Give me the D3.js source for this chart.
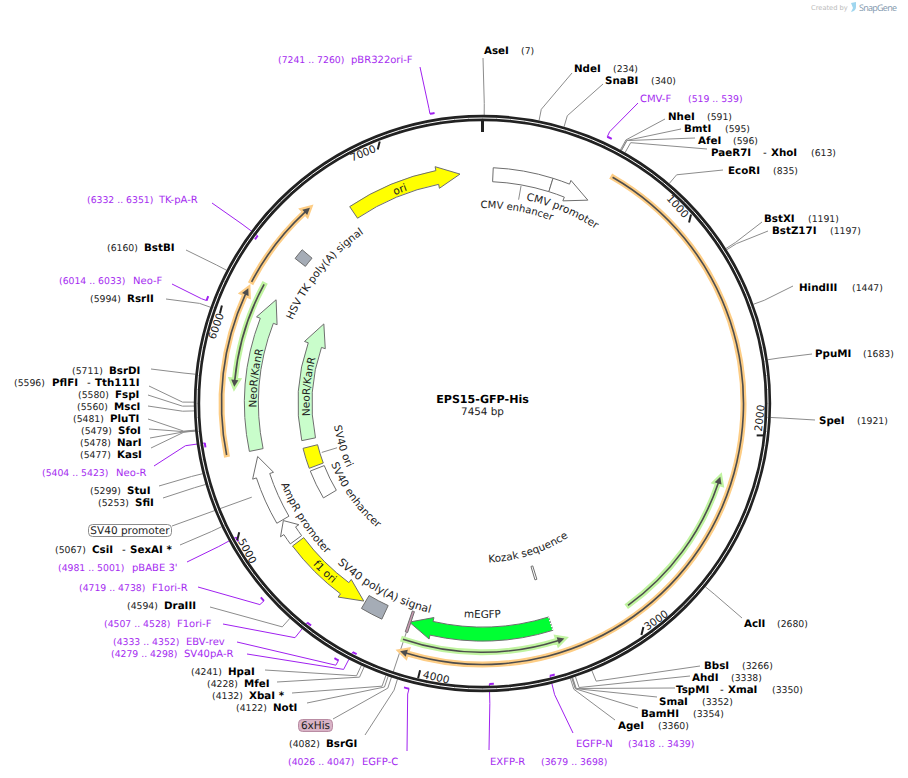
<!DOCTYPE html>
<html>
<head>
<meta charset="utf-8">
<title>EPS15-GFP-His</title>
<script src="https://cdn.jsdelivr.net/npm/d3@7"></script>
<style>
  body { margin: 0; background: #fff; }
  svg { display: block; font-family: "DejaVu Sans", sans-serif; text-rendering: geometricPrecision; }
  .site { font-size: 10.3px; font-weight: bold; fill: #000; }
  .num { font-size: 9.3px; fill: #222; }
  .primer { font-size: 10px; fill: #a52cf0; }
  .primerNum { font-size: 9.3px; fill: #a52cf0; }
  .feat { font-size: 10.5px; fill: #222; }
  .lead { fill: none; stroke: #8c8c8c; stroke-width: 1; }
</style>
</head>
<body>
<div id="map"></div>
<script>
var plasmidLength = 7454;

// restriction sites
var siteNames = ["AseI","NdeI","SnaBI","NheI","BmtI","AfeI","PaeR7I","EcoRI","BstXI","BstZ17I","HindIII","PpuMI","SpeI","AclI",
  "BbsI","AhdI","TspMI","SmaI","BamHI","AgeI","BsrGI","NotI","XbaI *","MfeI","HpaI","DraIII","CsiI","SfiI","StuI",
  "KasI","NarI","SfoI","PluTI","MscI","FspI","PflFI","BsrDI","RsrII","BstBI"];
var sitePositions = [7,234,340,591,595,596,613,835,1191,1197,1447,1683,1921,2680,
  3266,3338,3350,3352,3354,3360,4082,4122,4132,4228,4241,4594,5067,5253,5299,
  5477,5478,5479,5481,5560,5580,5596,5711,5994,6160];
var siteSecondNames = {"PaeR7I":"XhoI","TspMI":"XmaI","CsiI":"SexAI *","PflFI":"Tth111I"};

// primers
var primerNames = ["pBR322ori-F","TK-pA-R","Neo-F","Neo-R","pBABE 3'","F1ori-R","F1ori-F","EBV-rev","SV40pA-R","EGFP-C","EXFP-R","EGFP-N","CMV-F"];
var primerStarts = [7241,6332,6014,5404,4981,4719,4507,4333,4279,4026,3679,3418,519];
var primerEnds = [7260,6351,6033,5423,5001,4738,4528,4352,4298,4047,3698,3439,539];
var primerOutside = [true,false,true,false,false,true,false,true,false,true,false,false,true];

// features, from = tail, to = arrow tip
var featNames = ["ori","CMV enhancer","CMV promoter","NeoR/KanR","NeoR/KanR","f1 ori","mEGFP","SV40 promoter","AmpR promoter"];
var featFrom = [6750,54,360,5350,5350,4827,3370,4965,4842];
var featTo = [7338,360,567,6143,6142,4369,4110,5316,4960];

var boxNames = ["HSV TK poly(A) signal","SV40 ori","SV40 enhancer","SV40 poly(A) signal","6xHis","Kozak sequence"];
var boxFrom = [6372,5166,4955,4245,4102,3371];
var boxTo = [6428,5300,5147,4360,4114,3384];

// thin ORF arrows, orange and green
var orangeFrom = [619,5355,6166];
var orangeTo = [4108,6133,6597];
var greenFrom = [6183,4113,2986];
var greenTo = [5670,3329,2218];

var rulerTicks = [1000,2000,3000,4000,5000,6000,7000];

// label layout, x, baseline, number x, leader end x, leader end y (same order as the names)
var siteLayout = [
  [484,54,521,483,58],[574,72,613,572,73],[605,84,651,603,84],[668,120,707,665,119],[684,132,725,681,129],[698,144,733,695,138],
  [711,156,811,707,149],[728,174,773,723,170],[764,222,808,762,222],[772,234,830,768,231],[799,291,852,793,286],[815,357,863,812,354],
  [819,424,857,815,420],[744,627,777,742,618],
  [704,669,742,700,666],[692,681,731,690,676],[676,693,772,675,688],[659,705,702,657,697],[641,717,693,638,708],[618,729,658,615,720],
  [326,747,289,365,735],[273,711,236,307,703],[249,699,212,292,693],[244,687,207,277,682],[228,675,191,265,670],[164,609,127,210,607],
  [92,553,55,180,545],[135,506,98,163,498],[127,494,90,159,486],
  [117,458,80,151,448],[117,446,80,150,438],[118,434,81,149,429],[110,422,73,148,419],[114,410,77,148,406],[115,398,78,148,395],
  [52,386,14,149,386],[109,374,72,151,369],[127,302,90,166,299],[144,251,107,186,250]
];
var secondNameX = {"XhoI":771,"XmaI":728,"SexAI *":130,"Tth111I":95};

// name x, range x, baseline, leader end x, leader end y
var primerLayout = [
  [351,278,63,420,67],[159,87,203,212,203],[133,59,284,172,284],[116,42,476,154,466],[132,58,571,187,562],[152,79,591,198,587],
  [177,104,627,223,624],[186,113,645,237,642],[184,111,657,247,654],[362,288,765,407,751],[490,541,765,489,750],[576,628,747,573,733],[640,688,102,638,103]
];

var width = 908, height = 778;
var cx = 482.5, cy = 403.5;
var ringR = 285.5;

var angle = d3.scaleLinear().domain([0, plasmidLength]).range([0, 2 * Math.PI]);

function polar(bp, r) {
  var a = angle(bp);
  return [cx + r * Math.sin(a), cy - r * Math.cos(a)];
}

var svg = d3.select("#map").append("svg")
  .attr("width", width)
  .attr("height", height);

var chart = svg.append("g");
var plot = svg.append("g").attr("transform", `translate(${cx}, ${cy})`);

// arrow or box along the circle, drawn around 0,0
function arcShape(from, to, r, hw, headHw, headLen) {
  var a0 = angle(from) - Math.PI / 2;
  var a1 = angle(to) - Math.PI / 2;
  var dir = a1 > a0 ? 1 : -1;
  var base = a1 - dir * headLen / r;
  var p = d3.path();
  p.arc(0, 0, r + hw, a0, base, dir < 0);
  if (headLen > 0) {
    p.lineTo((r + headHw) * Math.cos(base), (r + headHw) * Math.sin(base));
    p.lineTo(r * Math.cos(a1), r * Math.sin(a1));
    p.lineTo((r - headHw) * Math.cos(base), (r - headHw) * Math.sin(base));
  }
  p.arc(0, 0, r - hw, base, a0, dir > 0);
  p.closePath();
  return p.toString();
}

// the text sits on an arc, clockwise on top and counter clockwise on the bottom half
var pathCount = 0;
function curvedLabel(txt, mid, r, flip, size) {
  var span = 0.9;
  var a = angle(mid);
  var a0 = flip ? a + span : a - span;
  var a1 = flip ? a - span : a + span;
  var id = "tp" + (pathCount++);
  var p = d3.path();
  p.arc(0, 0, r, a0 - Math.PI / 2, a1 - Math.PI / 2, flip);
  plot.append("path").attr("id", id).attr("d", p.toString()).attr("fill", "none");
  plot.append("text").attr("class", "feat")
    .style("font-size", size ? size + "px" : null)
    .append("textPath")
    .attr("href", "#" + id)
    .attr("startOffset", "50%")
    .attr("text-anchor", "middle")
    .text(txt);
}

function radialLine(bp, r0, r1) {
  var p0 = polar(bp, r0), p1 = polar(bp, r1);
  chart.append("line").attr("class", "lead")
    .attr("x1", p0[0]).attr("y1", p0[1]).attr("x2", p1[0]).attr("y2", p1[1]);
}

// thin orange and green arrows
function thinArrows(from, to, r, halo) {
  from.forEach(function(f, i) {
    var d = arcShape(f, to[i], r, 0.8, 3.6, 7);
    plot.append("path").attr("d", d)
      .attr("fill", halo).attr("stroke", halo).attr("stroke-width", 4.4);
    plot.append("path").attr("d", d).attr("fill", "#4d4d4d");
  });
}
thinArrows(orangeFrom, orangeTo, 261, "#fdcd85");
thinArrows(greenFrom, greenTo, 248.8, "#c0f4a0");

// ring
plot.append("circle").attr("r", ringR).attr("fill", "none").attr("stroke", "#222").attr("stroke-width", 6.4);
plot.append("circle").attr("r", ringR).attr("fill", "none").attr("stroke", "#fff").attr("stroke-width", 1);

// origin tick, then the ruler, these ticks do not turn with the circle except at the side
var t0 = polar(0, 283), t1 = polar(0, 271.5);
chart.append("line").attr("x1", t0[0]).attr("y1", t0[1]).attr("x2", t1[0]).attr("y2", t1[1])
  .attr("stroke", "#222").attr("stroke-width", 3);

rulerTicks.forEach(function(t) {
  var m = polar(t, 278);
  var side = Math.abs(Math.cos(angle(t))) < 0.2;
  svg.append("line")
    .attr("x1", side ? m[0] - 2 : m[0] - 1).attr("y1", side ? m[1] : m[1] + 4)
    .attr("x2", side ? m[0] + 5 : m[0] + 1).attr("y2", side ? m[1] : m[1] - 4)
    .attr("stroke", "#222").attr("stroke-width", 2);
  var deg = angle(t) * 180 / Math.PI;
  var top = deg < 90 || deg > 270;
  var rot = top ? deg : deg - 180;
  var lab = polar(t, 277);
  svg.append("text").attr("class", "feat")
    .attr("transform", `translate(${lab[0]}, ${lab[1]}) rotate(${rot})`)
    .attr("x", top ? -4 : 4)
    .attr("dy", "0.35em")
    .attr("text-anchor", top ? "end" : "start")
    .text(t);
});

// features, wide arrows
var featStyle = [
  {r:230.5, fill:"#ffff00"},
  {r:229, fill:"#fff"},
  {r:229, fill:"#fff"},
  {r:231, fill:"#c9fdcb"},
  {r:177.5, fill:"#c9fdcb"},
  {r:230.5, fill:"#ffff00"},
  {r:230.5, fill:"#00ff33"},
  {r:231, fill:"#fff"},
  {r:231, fill:"#fff"}
];
var headLens = [23, 0, 23, 23, 23, 23, 23, 20, 12];
featNames.forEach(function(n, i) {
  plot.append("path")
    .attr("d", arcShape(featFrom[i], featTo[i], featStyle[i].r, 7, 11, headLens[i]))
    .attr("fill", featStyle[i].fill)
    .attr("stroke", "#6e6e6e")
    .attr("stroke-width", 1);
});

// mEGFP tail continues past the edge of the map
var tail0 = polar(featFrom[6], 223.5), tail1 = polar(featFrom[6], 237.5);
svg.append("line")
  .attr("x1", tail0[0]).attr("y1", tail0[1]).attr("x2", tail1[0]).attr("y2", tail1[1])
  .attr("stroke", "#fff").attr("stroke-width", 1.5).attr("stroke-dasharray", "1.5,1.5");

// boxes, no arrow head
var boxStyle = [
  {r:230.5, hw:6.5, fill:"#a5acb6"},
  {r:177.5, hw:7.5, fill:"#ffff00"},
  {r:177.5, hw:7.5, fill:"#fff"},
  {r:230.5, hw:7.5, fill:"#a5acb6"},
  {r:230, hw:11, fill:"#cc99b2"},
  {r:177, hw:7, fill:"#fff"}
];
boxNames.forEach(function(n, i) {
  plot.append("path")
    .attr("d", arcShape(boxFrom[i], boxTo[i], boxStyle[i].r, boxStyle[i].hw, 0, 0))
    .attr("fill", boxStyle[i].fill)
    .attr("stroke", "#6e6e6e")
    .attr("stroke-width", 1);
});

// feature names
curvedLabel("ori", 7017, 226);
curvedLabel("CMV enhancer", 209, 195.5, false, 10);
curvedLabel("CMV promoter", 466, 208);
curvedLabel("NeoR/KanR", 5723, 226);
curvedLabel("NeoR/KanR", 5706, 173);
curvedLabel("f1 ori", 4620, 234, true);
curvedLabel("mEGFP", 3727, 214.5, true);
curvedLabel("HSV TK poly(A) signal", 6406, 207.5);
curvedLabel("SV40 ori", 5240, 150, true);
curvedLabel("SV40 enhancer", 4850, 163, true);
curvedLabel("AmpR promoter", 4910, 217, true);
curvedLabel("SV40 poly(A) signal", 4310, 216, true, 10.9);
curvedLabel("Kozak sequence", 3365, 159, true);

radialLine(208, 221, 207);
radialLine(5240, 168, 152);

// sites
siteNames.forEach(function(n, i) {
  var l = siteLayout[i];
  var ring = polar(sitePositions[i], 288.5);
  var elbow = polar(sitePositions[i], 300);
  chart.append("path").attr("class", "lead")
    .attr("d", d3.line()([ring, elbow, [l[3], l[4]]]));
  svg.append("text").attr("class", "site").attr("x", l[0]).attr("y", l[1]).text(n);
  svg.append("text").attr("class", "num").attr("x", l[2]).attr("y", l[1]).text("(" + sitePositions[i] + ")");
  if (siteSecondNames[n]) {
    var second = siteSecondNames[n];
    svg.append("text").attr("class", "site").attr("x", secondNameX[second] - 8).attr("y", l[1])
      .style("font-weight", "normal").text("-");
    svg.append("text").attr("class", "site").attr("x", secondNameX[second]).attr("y", l[1]).text(second);
  }
});

// primers
primerNames.forEach(function(n, i) {
  var l = primerLayout[i];
  var r = primerOutside[i] ? 294.5 : 280.5;
  var attach = primerOutside[i] ? primerStarts[i] : primerEnds[i];
  chart.append("path")
    .attr("d", d3.line()([[l[3], l[4]], polar(attach, 300), polar(attach, r)]))
    .attr("fill", "none").attr("stroke", "#a020f0").attr("stroke-width", 1);
  var p = d3.path();
  p.arc(0, 0, r, angle(primerStarts[i]) - Math.PI / 2, angle(primerEnds[i]) - Math.PI / 2);
  plot.append("path").attr("d", p.toString())
    .attr("fill", "none").attr("stroke", "#a020f0").attr("stroke-width", 2);
  svg.append("text").attr("class", "primer").attr("x", l[0]).attr("y", l[2]).text(n);
  svg.append("text").attr("class", "primerNum").attr("x", l[1]).attr("y", l[2])
    .text("(" + primerStarts[i] + " .. " + primerEnds[i] + ")");
});

// boxed labels
var sv40Elbow = polar(5133, 249);
chart.append("path").attr("class", "lead")
  .attr("d", d3.line()([sv40Elbow, [172, 526]]));
svg.append("rect").attr("x", 88.5).attr("y", 524.5).attr("width", 83).attr("height", 12).attr("rx", 4)
  .attr("fill", "#fff").attr("stroke", "#8c8c8c");
svg.append("text").attr("class", "feat").attr("x", 130).attr("y", 534).attr("text-anchor", "middle").text("SV40 promoter");

chart.append("path").attr("class", "lead")
  .attr("d", d3.line()([polar(4108, 241), polar(4108, 300), [333, 719]]));
svg.append("rect").attr("x", 298.5).attr("y", 719.5).attr("width", 34).attr("height", 12).attr("rx", 4)
  .attr("fill", "#d9b3c6").attr("stroke", "#b98ca3");
svg.append("text").attr("class", "feat").attr("x", 315.5).attr("y", 729).attr("text-anchor", "middle").text("6xHis");

// centre title
svg.append("text").attr("x", cx).attr("y", 403).attr("text-anchor", "middle")
  .style("font-size", "11.1px").style("font-weight", "bold").attr("fill", "#000").text("EPS15-GFP-His");
svg.append("text").attr("x", cx).attr("y", 415).attr("text-anchor", "middle")
  .style("font-size", "10.4px").attr("fill", "#222").text("7454 bp");

// SnapGene mark
svg.append("text").attr("x", 811).attr("y", 10).style("font-size", "6.7px").attr("fill", "#bbb").text("Created by");
svg.append("path").attr("d", "M851 3 L856 2 L856 7 Q856 11 851 12 L853 8 Z").attr("fill", "#9fd6ef");
svg.append("text").attr("x", 859).attr("y", 10.5)
  .attr("textLength", 38)
  .style("font-family", "'Open Sans'").style("font-size", "9px").attr("fill", "#7f97ad").text("SnapGene");
</script>
</body>
</html>
